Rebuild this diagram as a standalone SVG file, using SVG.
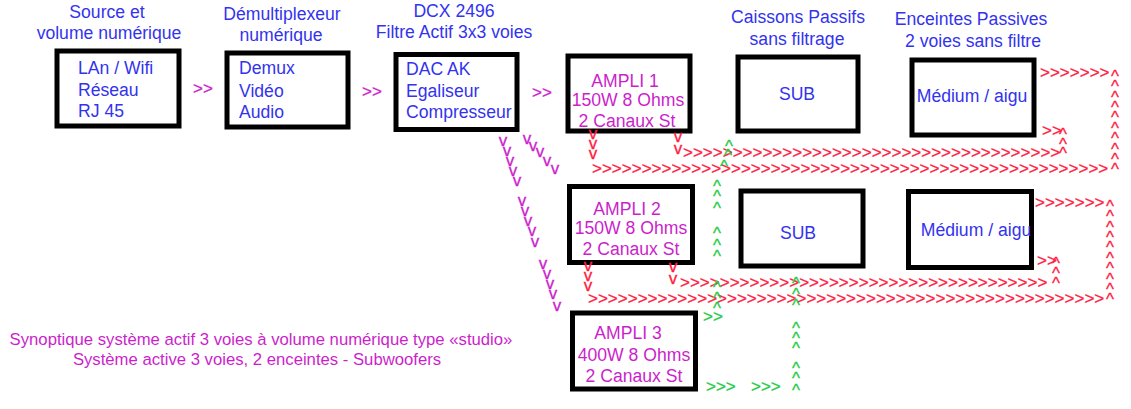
<svg xmlns="http://www.w3.org/2000/svg" width="1131" height="409" viewBox="0 0 1131 409">
<style>
text{font-family:"Liberation Sans",Arial,sans-serif}
.box{fill:#fff;stroke:#000;stroke-width:5}
.b{fill:#3333ee;font-size:17.6px}
.m{fill:#cc1fcc;font-size:17.6px}
.c{text-anchor:middle}
.cap{fill:#cc1fcc;font-size:16.7px;text-anchor:middle}
.r{fill:#ff2040;stroke:#ff2040;stroke-width:0.3;font-size:17px}
.g{fill:#22cc44;stroke:#22cc44;stroke-width:0.3;font-size:17px}
.mv{fill:#cc1fcc;stroke:#cc1fcc;stroke-width:0.3;font-size:17px}
.col{text-anchor:middle}
</style>
<rect width="1131" height="409" fill="#fff"/>

<g id="source">
<text class="b c" x="107" y="18">Source et</text>
<text class="b c" x="109" y="39">volume numérique</text>
<rect class="box" x="57" y="51" width="122" height="75"/>
<text class="b" x="78" y="74">LAn / Wifi</text>
<text class="b" x="78" y="96">Réseau</text>
<text class="b" x="78" y="117">RJ 45</text>
</g>

<g id="demux">
<text class="b c" x="282" y="20">Démultiplexeur</text>
<text class="b c" x="281" y="41">numérique</text>
<rect class="box" x="227" y="53" width="121" height="74"/>
<text class="b" x="239" y="74">Demux</text>
<text class="b" x="239" y="97">Vidéo</text>
<text class="b" x="239" y="118">Audio</text>
</g>

<g id="dcx">
<text class="b c" x="454" y="17">DCX 2496</text>
<text class="b c" x="454" y="38">Filtre Actif 3x3 voies</text>
<rect class="box" x="396" y="54.5" width="121" height="75"/>
<text class="b" x="406" y="75">DAC AK</text>
<text class="b" x="406" y="97">Egaliseur</text>
<text class="b" x="406" y="118">Compresseur</text>
</g>

<g id="ampli1">
<rect class="box" x="568" y="56" width="122" height="75"/>
<text class="m c" x="625" y="87">AMPLI 1</text>
<text class="m c" x="628" y="106">150W 8 Ohms</text>
<text class="m c" x="627" y="127">2 Canaux St</text>
</g>

<g id="sub1">
<text class="b c" x="798" y="23">Caissons Passifs</text>
<text class="b c" x="797" y="45">sans filtrage</text>
<rect class="box" x="738" y="57" width="120" height="74"/>
<text class="b c" x="797" y="100">SUB</text>
</g>

<g id="medium1">
<text class="b c" x="971" y="25">Enceintes Passives</text>
<text class="b c" x="973" y="47">2 voies sans filtre</text>
<rect class="box" x="912" y="60" width="122" height="75"/>
<text class="b c" x="972" y="102">Médium / aigu</text>
</g>

<g id="ampli2">
<rect class="box" x="569.5" y="186.5" width="123" height="76"/>
<text class="m c" x="627" y="215">AMPLI 2</text>
<text class="m c" x="631" y="234">150W 8 Ohms</text>
<text class="m c" x="631" y="255">2 Canaux St</text>
</g>

<g id="sub2">
<rect class="box" x="741" y="191" width="122" height="75"/>
<text class="b c" x="798" y="239">SUB</text>
</g>

<g id="medium2">
<rect class="box" x="908.5" y="191.5" width="123" height="76"/>
<text class="b c" x="976" y="236">Médium / aigu</text>
</g>

<g id="ampli3">
<rect class="box" x="572.5" y="313" width="123" height="76"/>
<text class="m c" x="628" y="339">AMPLI 3</text>
<text class="m c" x="634" y="361">400W 8 Ohms</text>
<text class="m c" x="634" y="382">2 Canaux St</text>
</g>

<g id="caption">
<text class="cap" x="261" y="345">Synoptique système actif 3 voies à volume numérique type «studio»</text>
<text class="cap" x="257" y="365">Système active 3 voies, 2 enceintes - Subwoofers</text>
</g>

<g id="connectors">
<!-- magenta chain arrows -->
<text class="mv" x="193" y="94">&gt;&gt;</text>
<text class="mv" x="362" y="97">&gt;&gt;</text>
<text class="mv" x="532" y="98">&gt;&gt;</text>
<text class="mv col" x="503 507 510 513 517 522 525 528 532 535 543 547 550 553 557" y="146 156 166 176 186 206 216 226 236 247 269 279 289 299 311">vvvvvvvvvvvvvvv</text>
<text class="mv col" x="527 533 540 547 555" y="144 151 157 166 174">vvvvv</text>

<!-- red row 1 -->
<text class="r col" x="593 593 593" y="139 149 159">vvv</text>
<text class="r" x="592" y="174">&gt;&gt;&gt;&gt;&gt;&gt;&gt;&gt;&gt;&gt;&gt;&gt;&gt;&gt;&gt;&gt;&gt;&gt;&gt;&gt;&gt;&gt;&gt;&gt;&gt;&gt;&gt;&gt;&gt;&gt;&gt;&gt;&gt;&gt;&gt;&gt;&gt;&gt;&gt;&gt;&gt;&gt;&gt;&gt;&gt;&gt;&gt;&gt;&gt;&gt;&gt;&gt;</text>
<text class="r col" x="678 678" y="142 154">vv</text>
<text class="r" x="683" y="158">&gt;&gt;&gt;&gt;&gt;&gt;&gt;&gt;&gt;&gt;&gt;&gt;&gt;&gt;&gt;&gt;&gt;&gt;&gt;&gt;&gt;&gt;&gt;&gt;&gt;&gt;&gt;&gt;&gt;&gt;&gt;&gt;&gt;&gt;&gt;&gt;&gt;&gt;</text>
<text class="r" x="1040" y="78">&gt;&gt;&gt;&gt;&gt;&gt;&gt;</text>
<text class="r col" x="1115 1115 1115 1115 1115 1115 1115 1115 1115 1115" y="82 92 103 113 123 134 144 155 165 175">^^^^^^^^^^</text>
<text class="r" x="1042" y="136">&gt;&gt;</text>
<text class="r col" x="1063 1063 1063" y="140 150 159">^^^</text>

<!-- red row 2 -->
<text class="r col" x="588 588 588" y="271 281 291">vvv</text>
<text class="r" x="588" y="304">&gt;&gt;&gt;&gt;&gt;&gt;&gt;&gt;&gt;&gt;&gt;&gt;&gt;&gt;&gt;&gt;&gt;&gt;&gt;&gt;&gt;&gt;&gt;&gt;&gt;&gt;&gt;&gt;&gt;&gt;&gt;&gt;&gt;&gt;&gt;&gt;&gt;&gt;&gt;&gt;&gt;&gt;&gt;&gt;&gt;&gt;&gt;&gt;&gt;&gt;&gt;&gt;</text>
<text class="r col" x="673 673" y="272 284">vv</text>
<text class="r" x="680" y="288">&gt;&gt;&gt;&gt;&gt;&gt;&gt;&gt;&gt;&gt;&gt;&gt;&gt;&gt;&gt;&gt;&gt;&gt;&gt;&gt;&gt;&gt;&gt;&gt;&gt;&gt;&gt;&gt;&gt;&gt;&gt;&gt;&gt;&gt;&gt;&gt;&gt;</text>
<text class="r" x="1035" y="208">&gt;&gt;&gt;&gt;&gt;&gt;&gt;</text>
<text class="r col" x="1110 1110 1110 1110 1110 1110 1110 1110 1110 1110" y="212 222 233 243 253 264 274 285 295 305">^^^^^^^^^^</text>
<text class="r" x="1037" y="266">&gt;&gt;</text>
<text class="r col" x="1056 1056 1056" y="269 279 289">^^^</text>

<!-- green -->
<text class="g col" x="729 728 724 717 717 717 717 717 717 717 717 717" y="152 161 172 192 202 214 239 251 262 293 304 314">^^^^^^^^^^^^</text>
<text class="g" x="703" y="322">&gt;&gt;</text>
<text class="g col" x="796 796 796 796 796 796 796 796 796" y="289 300 311 334 344 354 374 384 396">^^^^^^^^^</text>
<text class="g" x="706" y="392">&gt;&gt;&gt;</text>
<text class="g" x="751" y="392">&gt;&gt;&gt;</text>
</g>
</svg>
